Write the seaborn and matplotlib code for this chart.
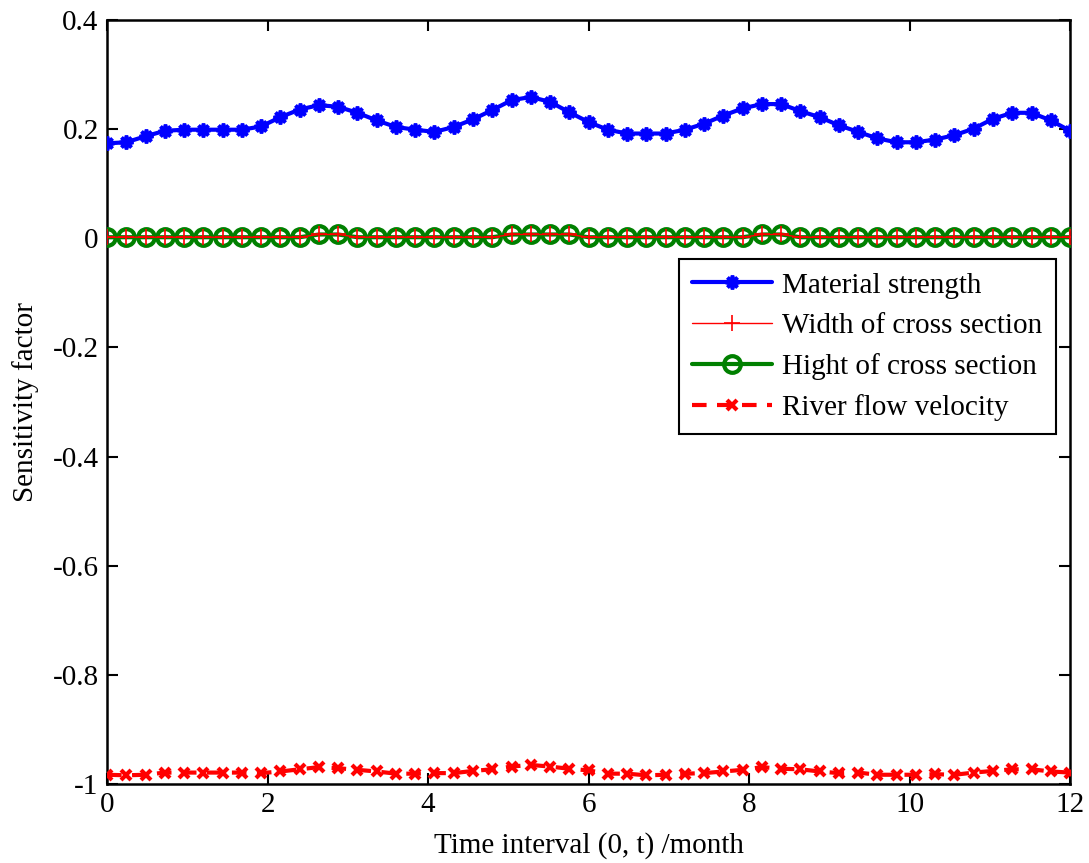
import numpy as np
import pandas as pd
import matplotlib
matplotlib.use("Agg")
import matplotlib.pyplot as plt
import seaborn as sns

# time axis: 51 samples over 12 months
t = np.linspace(0, 12, 51)

material = [0.174, 0.176, 0.187, 0.197, 0.199, 0.199, 0.199, 0.199, 0.205, 0.222,
            0.236, 0.244, 0.241, 0.230, 0.216, 0.204, 0.199, 0.195, 0.204, 0.218,
            0.235, 0.253, 0.259, 0.250, 0.231, 0.213, 0.199, 0.192, 0.192, 0.192,
            0.199, 0.210, 0.225, 0.238, 0.246, 0.246, 0.233, 0.222, 0.207, 0.195,
            0.183, 0.176, 0.176, 0.181, 0.189, 0.201, 0.219, 0.230, 0.230, 0.216,
            0.197]

hight = [0.002] * 51
for i in (11, 12, 21, 22, 23, 24, 34, 35):
    hight[i] = 0.007
width = list(hight)

velocity = [-0.983, -0.984, -0.983, -0.979, -0.979, -0.979, -0.979, -0.979, -0.980, -0.977,
            -0.973, -0.969, -0.971, -0.974, -0.977, -0.981, -0.981, -0.980, -0.980, -0.976,
            -0.973, -0.968, -0.965, -0.968, -0.972, -0.975, -0.981, -0.981, -0.984, -0.983,
            -0.981, -0.980, -0.977, -0.974, -0.969, -0.972, -0.973, -0.977, -0.980, -0.979,
            -0.983, -0.983, -0.983, -0.982, -0.983, -0.979, -0.976, -0.973, -0.973, -0.977,
            -0.979]

labels = ["Material strength", "Width of cross section",
          "Hight of cross section", "River flow velocity"]

sns.set_style("ticks")
plt.rcParams['font.family'] = ['Liberation Serif', 'DejaVu Serif']
plt.rcParams['text.color'] = 'black'
plt.rcParams['axes.labelcolor'] = 'black'
plt.rcParams['xtick.color'] = 'black'
plt.rcParams['ytick.color'] = 'black'
plt.rcParams['axes.edgecolor'] = 'black'

FS = 21

fig = plt.figure(figsize=(10.89, 8.63), dpi=100)
ax = fig.add_axes([0.0983, 0.0915, 0.8843, 0.8853])

sns.lineplot(x=t, y=material, ax=ax, color='blue', linewidth=3,
             marker=(8, 2, 0), markersize=10, markeredgewidth=2.6,
             markeredgecolor='blue', label=labels[0], zorder=3)
sns.lineplot(x=t, y=hight, ax=ax, color='green', linewidth=3,
             marker='o', markersize=12, markerfacecolor='none',
             markeredgewidth=3, markeredgecolor='green', label=labels[2], zorder=3)
sns.lineplot(x=t, y=width, ax=ax, color='red', linewidth=1,
             marker='+', markersize=11, markeredgewidth=1.2,
             markeredgecolor='red', label=labels[1], zorder=4)
sns.lineplot(x=t, y=velocity, ax=ax, color='red', linewidth=3,
             linestyle=(0, (3.5, 2.5)), marker='x', markersize=7,
             markeredgewidth=3, markeredgecolor='red', label=labels[3], zorder=3)

ax.set_xlim(0, 12)
ax.set_ylim(-1, 0.4)
ax.set_xticks(np.arange(0, 13, 2))
ax.set_yticks([-1, -0.8, -0.6, -0.4, -0.2, 0, 0.2, 0.4])
ax.set_yticklabels(['-1', '-0.8', '-0.6', '-0.4', '-0.2', '0', '0.2', '0.4'])
ax.tick_params(direction='in', top=True, right=True, length=8, width=1.5,
               labelsize=FS, pad=6)
for s in ax.spines.values():
    s.set_linewidth(1.8)
    s.set_visible(True)

ax.set_xlabel('Time interval (0, t) /month', fontsize=FS, labelpad=10)
ax.set_ylabel('Sensitivity factor', fontsize=FS, labelpad=10)

h, l = ax.get_legend_handles_labels()
order = [l.index(x) for x in labels]
leg = ax.legend([h[i] for i in order], [l[i] for i in order],
                loc='upper right', bbox_to_anchor=(0.985, 0.687),
                fontsize=FS, frameon=True, fancybox=False, framealpha=1,
                edgecolor='black', borderpad=0.45, labelspacing=0.48,
                handlelength=2.75, handletextpad=0.35, borderaxespad=0)
leg.get_frame().set_linewidth(1.5)

fig.savefig('out.png', dpi=100)
